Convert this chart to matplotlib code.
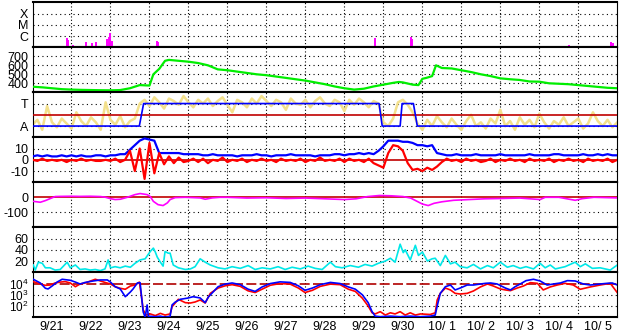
import numpy as np
import matplotlib
matplotlib.use("Agg")
import matplotlib.pyplot as plt

plt.rcParams['font.family'] = ['Liberation Sans Narrow', 'Liberation Sans', 'DejaVu Sans']
plt.rcParams['mathtext.fontset'] = 'custom'
plt.rcParams['mathtext.rm'] = 'Liberation Sans'
plt.rcParams['mathtext.it'] = 'Liberation Sans'

# time axis: days since 9/21 00:00
day_labels = ["9/21", "9/22", "9/23", "9/24", "9/25", "9/26", "9/27", "9/28",
              "9/29", "9/30", "10/ 1", "10/ 2", "10/ 3", "10/ 4", "10/ 5"]

# X-ray flares (peak flux, W/m2)
flare_t = [0.88, 0.91, 1.04, 1.22, 1.36, 1.53, 1.64, 1.92, 1.96, 2.00, 2.03, 3.19, 3.22,
           8.79, 9.70, 9.73, 10.83, 11.75, 11.88, 13.75, 14.85, 14.88]
flare_flux = [6.8e-7, 4.5e-7, 1.6e-7, 1.3e-7, 3.0e-7, 2.4e-7, 3.0e-7, 5.5e-7, 8.3e-7, 1.7e-6,
              3.6e-7, 3.6e-7, 3.0e-7, 6.8e-7, 7.8e-7, 5.5e-7, 1.3e-7, 1.3e-7, 1.3e-7, 1.6e-7,
              3.0e-7, 2.4e-7]

# solar wind speed (km/s)
speed_t = [0, 0.25, 0.5, 0.75, 1.0, 1.25, 1.5, 1.75, 2.0, 2.25, 2.5, 2.75, 3.0, 3.1, 3.25, 3.4,
           3.5, 3.75, 4.0, 4.25, 4.5, 4.75, 5.0, 5.25, 5.5, 5.75, 6.0, 6.25, 6.5, 6.75, 7.0,
           7.25, 7.5, 7.75, 8.0, 8.25, 8.5, 8.75, 9.0, 9.25, 9.4, 9.5, 9.75, 9.9, 10.0, 10.1,
           10.25, 10.35, 10.5, 10.75, 11.0, 11.25, 11.5, 11.75, 12.0, 12.25, 12.5, 12.75, 13.0,
           13.25, 13.5, 13.75, 14.0, 14.25, 14.5, 14.75, 15.0]
speed = [362, 355, 345, 335, 330, 327, 325, 323, 322, 325, 345, 380, 375, 500, 560, 650,
         660, 650, 640, 625, 600, 555, 545, 530, 515, 500, 490, 475, 460, 445, 430,
         410, 390, 365, 345, 330, 340, 365, 385, 405, 415, 410, 385, 380, 450, 460,
         480, 600, 570, 565, 545, 525, 500, 480, 455, 445, 437, 420, 418,
         400, 395, 390, 380, 370, 360, 350, 345]

# IMF phi angle (deg), 3-hourly, and sector (A / T)
phi = [100, 140, 60, 250, 120, 80, 150, 110, 70, 200, 130, 90, 160, 120, 60, 280, 140, 100,
       170, 80, 130, 150,
       270, 300, 250, 320, 280, 230, 310, 290, 260, 330, 280, 240, 300, 270, 310, 250, 290,
       320, 260, 200, 300, 280, 240, 310, 270, 330, 290, 250, 300, 280, 220, 310, 270, 260,
       300, 240, 290, 320, 270, 250, 300, 280, 210, 300, 260, 310, 280, 240, 290, 270,
       120, 90, 150, 280, 300, 260, 200,
       110, 60, 140, 90, 170, 120, 80, 150, 100, 60, 130, 180, 90, 120, 70, 150, 110, 220,
       90, 130, 60, 160, 100, 140, 80, 190, 120, 70, 130, 100, 160, 90, 120, 150, 70, 110,
       200, 130, 90, 140, 80, 120]
sector_t = [0, 2.74, 2.85, 8.89, 8.97, 9.43, 9.48, 9.77, 9.87, 15]
sector = [90, 90, 270, 270, 90, 90, 270, 270, 90, 90]

# IMF Bt and Bz (nT), 3-hourly
bt = [3, 4, 3, 4, 3, 3, 4, 3, 4, 3, 4, 3, 3, 4, 4, 3, 4, 4, 5, 5,
      9, 13, 17, 19, 18, 17, 6,
      6, 6, 6, 6, 5,
      5, 5, 5, 4, 4, 5, 4, 4, 4,
      4, 3, 4, 4, 4, 5, 4, 4, 3, 4, 4, 4, 5, 4, 4, 4, 4, 3, 4, 4, 4, 5, 5, 4, 5, 5, 6,
      5, 6, 5, 8, 12, 17, 17, 17, 16, 16, 15, 13, 13, 12, 13, 6, 5,
      4, 4, 5, 4, 4, 4, 5, 4, 4, 4, 4, 5, 4, 4, 4, 4, 4, 5, 4, 4, 4, 4, 5, 5, 4, 4, 4, 4,
      5, 4, 4, 5, 4, 5, 4, 4]
bz = [0, -1, 1, -1, 0, -1, 0, -2, 0, -1, 1, -1, 0, -1, -1, 0, -1, 1, -2, 0,
      8, -10, 10, -17, 15, -12, 6,
      -4, 3, -3, 2, -2,
      -1, 1, -2, 1, -3, 0, -1, 2, -2,
      0, -1, 1, -2, 0, -1, 1, -1, 0, -2, 1, -1, 0, -1, 1, -2, 0, -1, 2, -1, 0, -1, 1, -2, 1, -1, 0,
      -2, 1, -3, -5, -7, 6, 13, 12, 8, -3, -9, -8, -10, -7, -9, -6, -2,
      1, -1, 0, -2, 1, -1, 0, -2, -1, 1, -2, 0, -1, 1, -1, 0, -2, 1, -1, 0, -1, 1, -2, 0,
      -1, 1, -1, 0, -2, 1, -1, 0, -1, 1, -2, 0]

# Dst (nT)
dst_t = [0.02, 0.2, 0.33, 0.45, 0.58, 0.71, 0.97, 1.22, 1.48, 1.74, 1.86, 2.0, 2.12, 2.25,
         2.43, 2.63, 2.76, 2.94, 3.02, 3.1, 3.22, 3.35, 3.46, 3.53, 3.66, 3.92, 4.3, 4.43,
         4.61, 4.81, 5.0, 5.5, 6.0, 6.5, 7.0, 7.5, 8.0, 8.3, 8.6, 8.9, 9.2, 9.5, 9.7, 9.85,
         10.0, 10.15, 10.3, 10.5, 10.8, 11.2, 11.6, 12.0, 12.5, 13.02, 13.15, 13.5, 13.92,
         14.1, 14.4, 14.7, 15.0]
dst = [-27, -33, -22, -9, 5, 6, 7, 6, 7, 5, 1, -9, -15, -13,
       0, 18, 25, 18, 5, -27, -49, -55, -37, -15, -2, 0, -4, -13,
       -4, 0, 0, -5, -3, -8, -5, -10, -15, -10, 5, 12, 10, 5, -5, -25,
       -45, -55, -40, -30, -20, -15, -10, -8, -5, -15, 0, 0, -20,
       -9, 0, -2, -4]

# proton density (cm-3)
dens_t = [0.02, 0.07, 0.15, 0.25, 0.33, 0.45, 0.58, 0.71, 0.89, 0.97, 1.1, 1.22, 1.35, 1.48,
          1.61, 1.74, 1.86, 1.94, 2.0, 2.12, 2.25, 2.38, 2.51, 2.63, 2.76, 2.89, 3.02, 3.1,
          3.15, 3.2, 3.28, 3.35, 3.4, 3.48, 3.53, 3.61, 3.74, 3.92, 4.05, 4.17, 4.3, 4.43,
          4.56, 4.76, 4.94, 5.12, 5.33, 5.53, 5.71, 5.89, 6.1, 6.3, 6.48, 6.66, 6.87, 7.07,
          7.25, 7.43, 7.64, 7.77, 7.94, 8.15, 8.36, 8.53, 8.71, 8.87, 9.05, 9.18, 9.3, 9.43,
          9.51, 9.56, 9.69, 9.82, 9.9, 10.0, 10.13, 10.25, 10.33, 10.46, 10.59, 10.72, 10.84,
          10.97, 11.15, 11.31, 11.49, 11.67, 11.82, 12.0, 12.18, 12.33, 12.51, 12.66, 12.85,
          13.02, 13.15, 13.28, 13.41, 13.66, 13.92, 14.05, 14.18, 14.36, 14.56, 14.82, 15.0]
dens = [13, 4, 18, 16, 8, 8, 4, 5, 18, 8, 13, 5, 6, 4,
        5, 3, 6, 22, 8, 10, 8, 11, 9, 16, 22, 24, 37, 43,
        36, 27, 18, 11, 37, 34, 34, 13, 8, 5, 6, 10, 24, 18,
        13, 8, 6, 10, 7, 12, 5, 8, 6, 10, 5, 9, 6, 11,
        7, 5, 18, 10, 8, 12, 9, 14, 11, 16, 20, 25, 18, 50,
        35, 40, 22, 48, 30, 36, 20, 24, 25, 12, 30, 15, 18,
        10, 8, 14, 6, 12, 8, 18, 9, 12, 7, 10, 6,
        16, 8, 13, 6, 10, 18, 10, 15, 7, 8, 4, 13]

# >2 MeV electron flux (log10), two satellites
eflux_a_t = [0.02, 0.2, 0.33, 0.4, 0.51, 0.63, 0.76, 0.97, 1.1, 1.22, 1.35, 1.56, 1.74, 1.92,
             2.0, 2.12, 2.25, 2.38, 2.51, 2.58, 2.69, 2.76, 2.81, 2.84, 2.89, 2.94, 2.97, 3.15,
             3.28, 3.4, 3.53, 3.58, 3.66, 3.79, 3.97, 4.12, 4.3, 4.43, 4.51, 4.64, 4.76, 4.94,
             5.12, 5.33, 5.53, 5.71, 5.89, 6.1, 6.35, 6.61, 6.82, 6.99, 7.18, 7.38, 7.64, 7.89,
             8.1, 8.28, 8.46, 8.61, 8.71, 8.79, 8.92, 9.18, 9.43, 9.69, 9.95, 10.2, 10.33, 10.38,
             10.46, 10.59, 10.72, 10.84, 10.97, 11.15, 11.31, 11.49, 11.62, 11.75, 11.92, 12.13,
             12.26, 12.38, 12.51, 12.66, 12.85, 13.02, 13.2, 13.36, 13.54, 13.72, 13.92, 14.13,
             14.31, 14.56, 14.74, 14.87, 15.0]
eflux_a = [4.38, 4.05, 3.58, 3.52, 3.8, 4.13, 4.38, 4.29, 4.13, 3.96, 4.1, 4.23, 4.32, 4.32,
           4.13, 3.72, 3.52, 2.83, 3.25, 3.52, 4.05, 4.08, 2.4, 1.47, 1.0, 2.1, 1.1, 1.05,
           1.1, 1.0, 1.1, 2.1, 2.35, 2.6, 2.7, 2.83, 2.72, 2.3, 2.8, 3.28, 3.72, 3.95,
           4.05, 3.9, 3.5, 3.3, 3.7, 4.0, 4.15, 4.1, 3.8, 3.4, 3.6, 3.9, 4.1, 4.0,
           3.7, 3.5, 3.0, 2.3, 1.5, 1.1, 1.05, 1.1, 1.05, 1.1, 1.05, 1.1, 1.2, 2.0,
           3.13, 3.72, 3.87, 3.43, 3.6, 3.87, 3.87, 3.96, 4.02, 4.05, 3.96, 3.6,
           3.43, 3.72, 3.96, 4.26, 4.38, 4.23, 3.87, 3.96, 4.05, 4.26, 4.23, 3.96,
           3.87, 3.96, 4.02, 4.05, 3.87]
eflux_b_t = [0.02, 0.2, 0.33, 0.45, 0.58, 0.71, 0.84, 0.97, 1.1, 1.22, 1.35, 1.61, 1.74, 1.86,
             2.0, 2.12, 2.25, 2.38, 2.51, 2.63, 2.74, 2.79, 2.84, 2.92, 3.02, 3.15, 3.28, 3.4,
             3.53, 3.58, 3.74, 3.92, 4.05, 4.17, 4.3, 4.43, 4.56, 4.76, 4.94, 5.12, 5.33, 5.53,
             5.71, 5.89, 6.1, 6.35, 6.61, 6.82, 6.99, 7.18, 7.38, 7.64, 7.89, 8.1, 8.28, 8.46,
             8.61, 8.71, 8.79, 8.92, 9.05, 9.18, 9.3, 9.43, 9.56, 9.69, 9.82, 9.95, 10.2, 10.33,
             10.38, 10.46, 10.59, 10.72, 10.84, 10.97, 11.15, 11.31, 11.49, 11.67, 11.82, 12.0,
             12.13, 12.26, 12.43, 12.59, 12.77, 12.95, 13.1, 13.28, 13.46, 13.66, 13.87, 14.05,
             14.31, 14.56, 14.82, 15.0]
eflux_b = [4.17, 3.96, 3.84, 3.87, 4.05, 4.13, 4.17, 4.05, 3.72, 3.96, 4.05, 4.38, 4.23, 4.1,
           3.96, 3.72, 3.58, 3.49, 3.78, 3.87, 4.13, 3.0, 1.65, 1.2, 1.3, 1.15, 1.35, 1.2,
           1.3, 1.94, 2.6, 2.3, 2.27, 2.36, 2.54, 2.27, 3.13, 3.6, 3.8, 3.9, 3.75, 3.35,
           3.2, 3.5, 3.85, 4.0, 3.95, 3.6, 3.2, 3.4, 3.75, 3.95, 3.9, 3.5, 3.3, 2.7,
           2.0, 1.4, 1.3, 1.5, 1.2, 1.4, 1.3, 1.5, 1.2, 1.4, 1.2, 1.3, 1.25, 1.4,
           2.54, 3.13, 3.6, 3.43, 3.13, 3.07, 3.13, 3.34, 3.7, 3.96, 3.78, 3.52,
           3.43, 3.37, 3.6, 3.78, 4.08, 4.02, 3.43, 3.7, 3.87, 4.02, 3.87, 3.49,
           3.7, 3.87, 4.02, 3.19]

DOT = (0, (1, 3))
LABEL_SIZE = 9


def style_panel(ax, ticks, labels, ylim, grid_ticks, log=False):
    if log:
        ax.set_yscale('log')
    ax.set_ylim(*ylim)
    ax.set_xlim(0, 15)
    ax.set_yticks(ticks)
    ax.set_yticklabels(labels, fontsize=LABEL_SIZE)
    ax.yaxis.set_minor_locator(matplotlib.ticker.NullLocator())
    ax.tick_params(axis='both', which='both', length=0, pad=3)
    ax.set_xticks(range(1, 15))
    ax.set_xticklabels([])
    for d in range(1, 15):
        ax.axvline(d, color='black', lw=0.8, linestyle=(0, (1, 2)), zorder=1)
    for g in grid_ticks:
        ax.axhline(g, color='black', lw=0.8, linestyle=DOT, zorder=1)
    ax.spines['top'].set_linewidth(1.5)
    ax.spines['bottom'].set_linewidth(1.5)
    ax.spines['left'].set_linewidth(0.8)
    ax.spines['right'].set_linewidth(0.8)


fig = plt.figure(figsize=(6.28, 3.34), dpi=100)
W, H = 628, 334
left, right = 32.5, 617.3
axes = []
for i in range(7):
    top = 2.3 + 45 * i
    axes.append(fig.add_axes([left / W, 1 - (top + 45) / H, (right - left) / W, 45 / H]))
ax_x, ax_v, ax_p, ax_b, ax_d, ax_n, ax_e = axes

# flares
style_panel(ax_x, [1e-6, 1e-5, 1e-4], ['C', 'M', 'X'], (1e-7, 1e-3), [1e-6, 1e-5, 1e-4], log=True)
ax_x.vlines(flare_t, 1e-7, flare_flux, color='#ff00ff', lw=1.4, zorder=3)

# speed
style_panel(ax_v, [400, 500, 600, 700], ['400', '500', '600', '700'], (300, 800), [400, 500, 600, 700])
ax_v.plot(speed_t, speed, color='#00ee00', lw=1.6, zorder=3)

# phi / sector
phi_t = np.arange(len(phi)) * 0.125
style_panel(ax_p, [90, 270], ['A', 'T'], (0, 360), [90, 270])
ax_p.plot(phi_t, phi, color='#f3e08c', lw=1.8, zorder=2)
ax_p.axhline(180, color='#c00000', lw=1.2, zorder=3)
ax_p.plot(sector_t, sector, color='#0000ff', lw=1.2, zorder=4)

# Bt / Bz
b_t = np.arange(len(bt)) * 0.125
style_panel(ax_b, [-10, 0, 10], ['-10', '0', '10'], (-20, 20), [-10, 10])
ax_b.axhline(0, color='#c00000', lw=1.2, zorder=2)
ax_b.plot(b_t, bt, color='#0000ff', lw=1.6, zorder=3)
ax_b.plot(b_t, bz, color='#ff0000', lw=1.6, zorder=4)

# Dst
style_panel(ax_d, [-100, 0], ['-100', '0'], (-200, 100), [-100])
ax_d.axhline(0, color='#c00000', lw=1.2, zorder=2)
ax_d.plot(dst_t, dst, color='#ff00ff', lw=1.2, zorder=3)

# density
style_panel(ax_n, [20, 40, 60], ['20', '40', '60'], (0, 80), [20, 40, 60])
ax_n.plot(dens_t, dens, color='#00e8e8', lw=1.2, zorder=3)

# electrons
style_panel(ax_e, [1e2, 1e3, 1e4], [r'$10^2$', r'$10^3$', r'$10^4$'], (1e1, 1e5), [1e2, 1e3], log=True)
for lab in ax_e.get_yticklabels():
    lab.set_fontsize(8.5)
ax_e.axhline(1e4, color='#b00000', lw=1.2, linestyle=(0, (6, 2)), zorder=2)
ax_e.plot(eflux_b_t, 10 ** np.array(eflux_b), color='#ff0000', lw=1.2, zorder=3)
ax_e.plot(eflux_a_t, 10 ** np.array(eflux_a), color='#0000ff', lw=1.2, zorder=4)
ax_e.set_xticks([d + 0.5 for d in range(15)], minor=True)
ax_e.set_xticklabels(day_labels, minor=True, fontsize=LABEL_SIZE)
ax_e.tick_params(axis='x', which='minor', length=0, pad=3)

fig.savefig('out.png', dpi=100)
